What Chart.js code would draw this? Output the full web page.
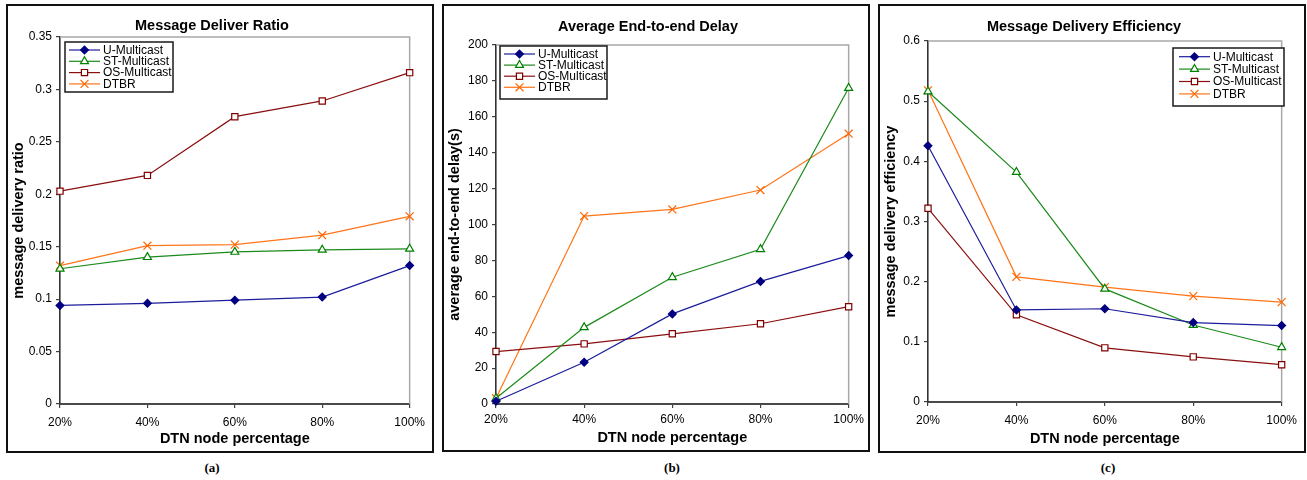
<!DOCTYPE html>
<html>
<head>
<meta charset="utf-8">
<script src="https://cdn.jsdelivr.net/npm/chart.js@4/dist/chart.umd.min.js"></script>
<style>
  html, body { margin: 0; padding: 0; background: #fff; width: 1307px; height: 480px; overflow: hidden; }
  .panel { position: absolute; border: 2px solid #111; box-sizing: border-box; background: #fff; }
  .panel canvas { position: absolute; left: 0; top: 0; }
  .cap { position: absolute; font-family: "Liberation Serif", "DejaVu Serif", serif; font-weight: bold; font-size: 13px; color: #000; transform: translate(-50%, -50%); }
</style>
</head>
<body>
<div id="pa" class="panel" style="left:6px;top:4px;width:428px;height:449px;"><canvas id="ca"></canvas></div>
<div id="pb" class="panel" style="left:442px;top:4px;width:428px;height:448px;"><canvas id="cb"></canvas></div>
<div id="pc" class="panel" style="left:878px;top:4px;width:428px;height:449px;"><canvas id="cc"></canvas></div>
<div class="cap" style="left:212px;top:468px;">(a)</div>
<div class="cap" style="left:672px;top:468px;">(b)</div>
<div class="cap" style="left:1108px;top:468px;">(c)</div>
<script>
// ---------- data ----------
const categories = ['20%', '40%', '60%', '80%', '100%'];
const seriesNames = ['U-Multicast', 'ST-Multicast', 'OS-Multicast', 'DTBR'];

const ratioU    = [0.094, 0.096, 0.099, 0.102, 0.132];
const ratioST   = [0.129, 0.140, 0.145, 0.147, 0.148];
const ratioOS   = [0.203, 0.218, 0.274, 0.289, 0.316];
const ratioDTBR = [0.132, 0.151, 0.152, 0.161, 0.179];

const delayU    = [1.5, 23.3, 50.2, 68.3, 82.7];
const delayST   = [3.2, 42.7, 70.6, 86.2, 176];
const delayOS   = [29.2, 33.5, 39.1, 44.7, 54.2];
const delayDTBR = [3.2, 104.7, 108.4, 119.2, 150.6];

const effU    = [0.426, 0.153, 0.155, 0.132, 0.127];
const effST   = [0.516, 0.382, 0.188, 0.128, 0.091];
const effOS   = [0.322, 0.145, 0.090, 0.075, 0.062];
const effDTBR = [0.518, 0.208, 0.191, 0.176, 0.166];

const titles = ['Message Deliver Ratio', 'Average End-to-end Delay', 'Message Delivery Efficiency'];
const yTitles = ['message delivery ratio', 'average end-to-end delay(s)', 'message delivery efficiency'];
const xTitle = 'DTN node percentage';

// ---------- styles ----------
const FONT = "'Liberation Sans', Arial, sans-serif";
const seriesStyle = [
  { line: '#1c1c9c', mk: '#000080', fill: '#000080', shape: 'rectRot', r: 3.9 },
  { line: '#1a8a1a', mk: '#008000', fill: '#ffffff', shape: 'triangle', r: 4.6 },
  { line: '#8a0f0f', mk: '#800000', fill: '#ffffff', shape: 'rect', r: 4.4 },
  { line: '#ff7418', mk: '#ff6600', fill: '#ff6600', shape: 'crossRot', r: 5.6 }
];

function drawMarker(ctx, shape, x, y, r, fill, stroke) {
  ctx.save();
  ctx.lineWidth = 1.2;
  ctx.strokeStyle = stroke;
  ctx.fillStyle = fill;
  ctx.beginPath();
  if (shape === 'rectRot') {
    ctx.moveTo(x, y - r); ctx.lineTo(x + r, y); ctx.lineTo(x, y + r); ctx.lineTo(x - r, y); ctx.closePath();
    ctx.fill(); ctx.stroke();
  } else if (shape === 'triangle') {
    const h = r * 1.5, w = r * Math.sqrt(3) / 2 * 2;
    ctx.moveTo(x, y - r); ctx.lineTo(x + w / 2, y + r / 2); ctx.lineTo(x - w / 2, y + r / 2); ctx.closePath();
    ctx.fill(); ctx.stroke();
  } else if (shape === 'rect') {
    const s = r * Math.SQRT1_2;
    ctx.rect(x - s, y - s, 2 * s, 2 * s);
    ctx.fill(); ctx.stroke();
  } else if (shape === 'crossRot') {
    const s = r * Math.SQRT1_2;
    ctx.moveTo(x - s, y - s); ctx.lineTo(x + s, y + s);
    ctx.moveTo(x - s, y + s); ctx.lineTo(x + s, y - s);
    ctx.stroke();
  }
  ctx.restore();
}

function makePanel(cfg) {
  const canvas = document.getElementById(cfg.id);
  canvas.width = cfg.w; canvas.height = cfg.h;
  canvas.style.width = cfg.w + 'px'; canvas.style.height = cfg.h + 'px';

  const datasets = cfg.series.map((data, i) => {
    const st = seriesStyle[i];
    return {
      label: seriesNames[i],
      data: data,
      borderColor: st.line,
      borderWidth: 1.2,
      pointStyle: st.shape,
      pointRadius: st.r,
      pointHoverRadius: st.r,
      pointBackgroundColor: st.fill,
      pointBorderColor: st.mk,
      pointBorderWidth: 1.2,
      tension: 0,
      fill: false,
      clip: false
    };
  });

  const framePlugin = {
    id: 'frame',
    beforeDatasetsDraw(chart) {
      const a = chart.chartArea, ctx = chart.ctx;
      ctx.save();
      ctx.strokeStyle = '#a8a8a8';
      ctx.lineWidth = 1.5;
      ctx.beginPath();
      ctx.moveTo(a.left, a.top); ctx.lineTo(a.right, a.top); ctx.lineTo(a.right, a.bottom);
      ctx.stroke();
      ctx.restore();
    }
  };

  const legendPlugin = {
    id: 'boxLegend',
    afterDraw(chart) {
      const ctx = chart.ctx, L = cfg.legend;
      ctx.save();
      ctx.fillStyle = '#fff';
      ctx.fillRect(L.x, L.y, L.w, L.h);
      ctx.strokeStyle = '#1a1a1a';
      ctx.lineWidth = 1.5;
      ctx.strokeRect(L.x, L.y, L.w, L.h);
      ctx.font = '12px ' + FONT;
      ctx.textBaseline = 'middle';
      ctx.textAlign = 'left';
      seriesNames.forEach((name, i) => {
        const st = seriesStyle[i];
        const y = L.row0 + i * L.dy;
        ctx.strokeStyle = st.line;
        ctx.lineWidth = 1.2;
        ctx.beginPath();
        ctx.moveTo(L.lx0, y); ctx.lineTo(L.lx1, y);
        ctx.stroke();
        drawMarker(ctx, st.shape, (L.lx0 + L.lx1) / 2, y, st.r, st.fill, st.mk);
        ctx.fillStyle = '#000';
        ctx.fillText(name, L.tx, y + 0.5);
      });
      ctx.restore();
    }
  };

  new Chart(canvas, {
    type: 'line',
    data: { labels: categories, datasets: datasets },
    plugins: [framePlugin, legendPlugin],
    options: {
      responsive: false,
      animation: false,
      devicePixelRatio: 1,
      layout: { padding: { left: 0, right: 16, top: 0, bottom: 0 } },
      plugins: {
        legend: { display: false },
        tooltip: { enabled: false },
        title: {
          display: true,
          text: cfg.title,
          color: '#000',
          font: { family: FONT, size: 14.5, weight: 'bold' },
          padding: { top: cfg.tpt, bottom: cfg.tpb }
        }
      },
      scales: {
        x: {
          type: 'category',
          offset: false,
          afterFit: s => { s.height = cfg.xH; },
          grid: { display: true, drawOnChartArea: false, drawTicks: true, tickLength: 4, color: '#404040', lineWidth: 1.2 },
          border: { display: true, color: '#4a4a4a', width: 2 },
          ticks: { color: '#000', font: { family: FONT, size: 12 }, padding: cfg.xtp, maxRotation: 0, autoSkip: false },
          title: { display: true, text: xTitle, color: '#000', font: { family: FONT, size: 14.5, weight: 'bold' }, padding: { top: 0, bottom: cfg.xtb } }
        },
        y: {
          min: 0, max: cfg.ymax,
          afterFit: s => { s.width = cfg.yW; },
          grid: { display: true, drawOnChartArea: false, drawTicks: true, tickLength: 4, color: '#404040', lineWidth: 1.2 },
          border: { display: true, color: '#333', width: 1.6 },
          ticks: {
            stepSize: cfg.step, color: '#000', font: { family: FONT, size: 12 }, padding: 4,
            callback: v => String(parseFloat(Number(v).toFixed(3)))
          },
          title: { display: true, text: cfg.yTitle, color: '#000', font: { family: FONT, size: 14.5, weight: 'bold' }, padding: { top: 2.3, bottom: 0 } }
        }
      }
    }
  });
}

// canvas coords = page coords - (panel left + 2, panel top + 2)
makePanel({
  id: 'ca', w: 424, h: 445, title: titles[0], yTitle: yTitles[0],
  series: [ratioU, ratioST, ratioOS, ratioDTBR], ymax: 0.35, step: 0.05,
  tpt: 11.3, tpb: 2.3, xH: 47, xtp: 7, xtb: 3.3, yW: 52,
  legend: { x: 57, y: 36, w: 108, h: 50, row0: 44, dy: 11.3, lx0: 61, lx1: 92, tx: 95 }
});
makePanel({
  id: 'cb', w: 424, h: 444, title: titles[1], yTitle: yTitles[1],
  series: [delayU, delayST, delayOS, delayDTBR], ymax: 200, step: 20,
  tpt: 12.3, tpb: 9.3, xH: 46, xtp: 4, xtb: 3.6, yW: 52,
  legend: { x: 56, y: 40, w: 107, h: 53, row0: 48, dy: 11.1, lx0: 60, lx1: 91, tx: 94 }
});
makePanel({
  id: 'cc', w: 424, h: 445, title: titles[2], yTitle: yTitles[2],
  series: [effU, effST, effOS, effDTBR], ymax: 0.6, step: 0.1,
  tpt: 12.3, tpb: 5.3, xH: 49, xtp: 7, xtb: 3, yW: 48,
  legend: { x: 293, y: 42, w: 111, h: 58, row0: 50.7, dy: 12.4, lx0: 299, lx1: 330, tx: 333 }
});
</script>
</body>
</html>
